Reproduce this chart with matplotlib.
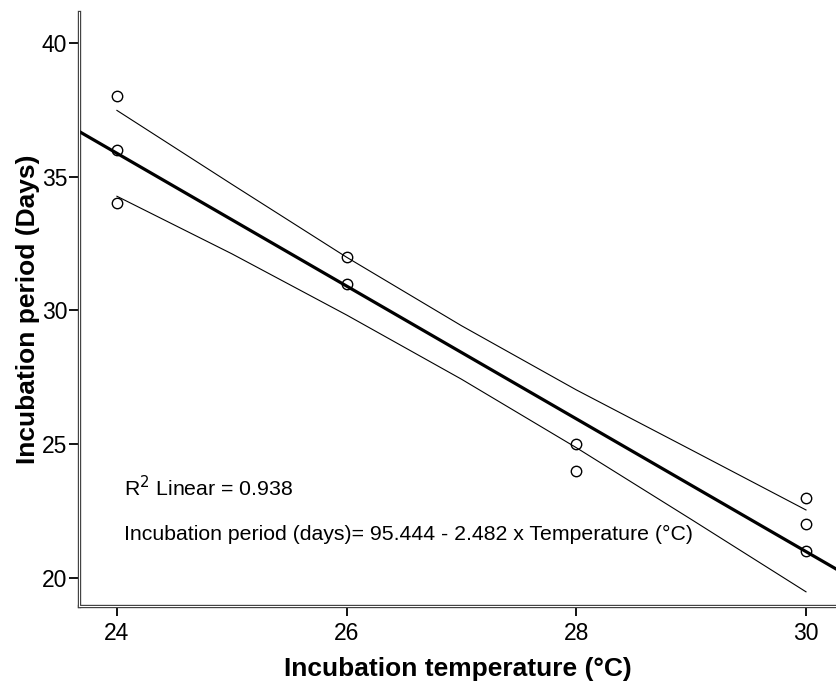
import numpy as np
import matplotlib
matplotlib.use("Agg")
import matplotlib.pyplot as plt

plt.rcParams['font.family'] = ['Liberation Sans', 'DejaVu Sans']

# observed incubation data
temp = [24, 24, 24, 26, 26, 28, 28, 30, 30, 30]
days = [38, 36, 34, 32, 31, 25, 24, 23, 22, 21]

# fitted line: days = b0 + b1 * temp
b0 = 95.444
b1 = -2.482
r2 = 0.938

# 95% CI of the mean, sampled along temperature
band_x = [24, 25, 26, 27, 28, 29, 30]
band_upper = [37.48, 34.72, 31.99, 29.43, 27.03, 24.79, 22.54]
band_lower = [34.27, 32.12, 29.83, 27.43, 24.87, 22.19, 19.48]

x_lim = (23.67, 30.27)
y_lim = (18.95, 41.16)

fig = plt.figure(figsize=(8.37, 6.88), dpi=100)
ax = fig.add_axes([0.0944, 0.1192, 0.9056, 0.8634])

xs = np.array(x_lim)
ax.plot(xs, b0 + b1 * xs, color='black', lw=2.3, solid_capstyle='butt', zorder=3)
ax.plot(band_x, band_upper, color='black', lw=0.8, zorder=2)
ax.plot(band_x, band_lower, color='black', lw=0.8, zorder=2)
ax.plot(temp, days, 'o', mfc='none', mec='black', mew=1.0, ms=7.5, zorder=4)

ax.text(24.06, 23.36, r'R$^2$ Linear = %.3f' % r2, fontsize=15.3, va='center', ha='left')
ax.text(24.06, 21.61,
        'Incubation period (days)= %.3f - %.3f x Temperature (°C)' % (b0, -b1),
        fontsize=15.3, va='center', ha='left')

ax.set_xlim(*x_lim)
ax.set_ylim(*y_lim)
ax.set_xticks([24, 26, 28, 30])
ax.set_yticks([20, 25, 30, 35, 40])
ax.tick_params(direction='out', length=7.5, width=1.3, labelsize=16.5, pad=1)
ax.tick_params(axis='x', pad=4)

for side in ('top', 'right'):
    ax.spines[side].set_visible(False)
for side in ('left', 'bottom'):
    ax.spines[side].set_linewidth(2.4)
    ax.spines[side].set_color('#3a3a3a')
# light gap inside the double axis lines
ax.plot([0, 0], [0, 1], transform=ax.transAxes, color='white', lw=0.8, clip_on=False, zorder=5)
ax.plot([0, 1], [0, 0], transform=ax.transAxes, color='white', lw=0.8, clip_on=False, zorder=5)

ax.set_xlabel('Incubation temperature (°C)', fontsize=19, fontweight='bold', labelpad=9)
ax.set_ylabel('Incubation period (Days)', fontsize=19, fontweight='bold', labelpad=1)

fig.savefig('out.png', dpi=100)
